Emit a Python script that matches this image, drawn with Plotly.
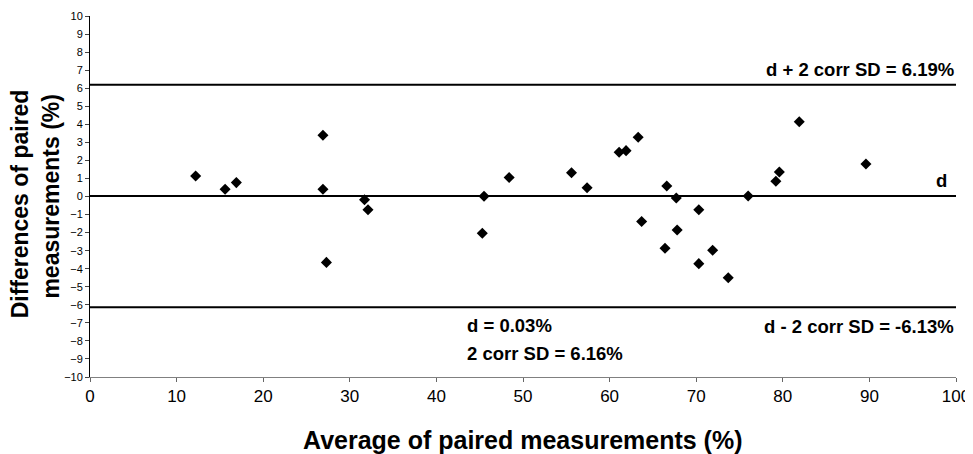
import plotly.graph_objects as go

avg = [12.2, 15.6, 16.9, 26.9, 26.9, 27.3, 31.7, 32.1, 45.5, 45.3, 48.4,
       55.6, 57.4, 61.1, 61.9, 63.3, 63.7, 66.6, 66.4, 67.7, 67.8, 70.3,
       70.3, 71.9, 73.7, 76.0, 79.2, 79.6, 81.9, 89.6]
diff = [1.14, 0.40, 0.77, 3.39, 0.40, -3.65, -0.18, -0.73, 0.01, -2.04, 1.05,
        1.32, 0.49, 2.45, 2.54, 3.28, -1.39, 0.58, -2.87, -0.08, -1.86, -0.73,
        -3.72, -2.98, -4.50, 0.03, 0.84, 1.36, 4.14, 1.80]

mean_d = 0.03
upper = 6.19
lower = -6.13
x_range = [0, 100]
FONT = "Arial, Liberation Sans, sans-serif"

fig = go.Figure()
for lvl in [upper, mean_d, lower]:
    fig.add_trace(go.Scatter(x=x_range, y=[lvl, lvl], mode="lines",
                             line=dict(color="black", width=2),
                             hoverinfo="skip", showlegend=False))
fig.add_trace(go.Scatter(x=avg, y=diff, mode="markers",
                         marker=dict(symbol="diamond", size=8.5, color="black"),
                         showlegend=False))

ann_style = dict(showarrow=False, font=dict(family=FONT, size=18.5, color="black"))
fig.add_annotation(x=100, y=upper, xanchor="right", yanchor="middle", yshift=15,
                   text="<b>d + 2 corr SD = 6.19%</b>", **ann_style)
fig.add_annotation(x=98.3, y=mean_d, xanchor="center", yanchor="middle", yshift=15,
                   text="<b>d</b>", **ann_style)
fig.add_annotation(x=100, y=lower, xanchor="right", yanchor="middle", yshift=-19,
                   text="<b>d - 2 corr SD = -6.13%</b>", **ann_style)
fig.add_annotation(x=43.3, y=lower, xanchor="left", yanchor="middle", yshift=-18,
                   text="<b>d = 0.03%</b>", **ann_style)
fig.add_annotation(x=43.3, y=lower, xanchor="left", yanchor="middle", yshift=-46,
                   text="<b>2 corr SD = 6.16%</b>", **ann_style)

# axis titles
fig.add_annotation(xref="paper", yref="paper", x=0.5, y=-0.175,
                   xanchor="center", yanchor="middle", showarrow=False,
                   text="<b>Average of paired measurements (%)</b>",
                   font=dict(family=FONT, size=25, color="black"))
fig.add_annotation(xref="paper", yref="paper", x=-0.0805, y=0.479,
                   xanchor="center", yanchor="middle", showarrow=False, textangle=-90,
                   text="<b>Differences of paired</b>",
                   font=dict(family=FONT, size=23, color="black"))
fig.add_annotation(xref="paper", yref="paper", x=-0.0445, y=0.501,
                   xanchor="center", yanchor="middle", showarrow=False, textangle=-90,
                   text="<b>measurements (%)</b>",
                   font=dict(family=FONT, size=23, color="black"))

# the page body adds an 8px offset, so the figure is sized to fit the window
fig.update_layout(
    width=965, height=446,
    margin=dict(l=82, r=17, t=8, b=77),
    paper_bgcolor="white", plot_bgcolor="white",
    font=dict(family=FONT, color="black"),
    xaxis=dict(range=x_range, tickvals=list(range(0, 101, 10)),
               ticks="outside", ticklen=4, tickcolor="#666",
               showline=True, linecolor="#808080", linewidth=1,
               showgrid=False, zeroline=False, automargin=False,
               tickfont=dict(size=17, family=FONT)),
    yaxis=dict(range=[-10, 10], tickvals=list(range(-10, 11)),
               ticks="outside", ticklen=4, tickcolor="#444",
               showline=True, linecolor="black", linewidth=1,
               showgrid=False, zeroline=False, automargin=False,
               tickfont=dict(size=11, family=FONT)),
)

fig.write_html("out.html")
